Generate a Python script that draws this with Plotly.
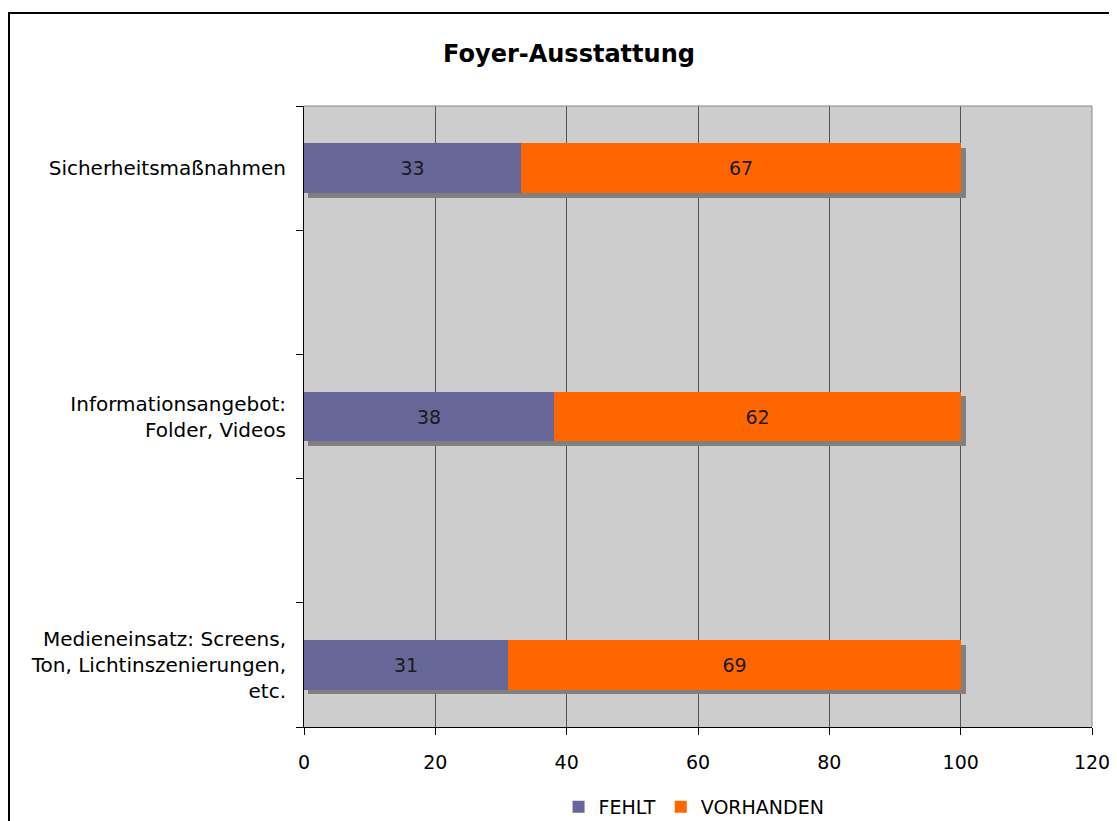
import plotly.graph_objects as go

categories = ["Sicherheitsmaßnahmen", "Informationsangebot:<br>Folder, Videos",
              "Medieneinsatz: Screens,<br>Ton, Lichtinszenierungen,<br>etc."]
cat_pos = [4, 2, 0]
fehlt = [33, 38, 31]
vorhanden = [67, 62, 69]
x_ticks = [0, 20, 40, 60, 80, 100, 120]

FONT = "Verdana, DejaVu Sans, sans-serif"
PURPLE = "#666699"
ORANGE = "#FF6600"
SHADOW = "#808080"
BAR_W = 0.4

W, H = 1109, 813  # page body has an 8px margin
L, T = 296, 98
PW, PH = 788, 621
B = H - T - PH

totals = [f + v for f, v in zip(fehlt, vorhanden)]

fig = go.Figure()
# 3D-style drop shadow behind each stacked bar
fig.add_trace(go.Bar(
    y=[p - 0.037 for p in cat_pos], x=[t + 0.2 for t in totals], base=[0.55] * len(totals),
    orientation="h", width=BAR_W, marker=dict(color=SHADOW, line=dict(width=0)),
    showlegend=False, hoverinfo="skip"))
fig.add_trace(go.Bar(
    name="FEHLT", y=cat_pos, x=fehlt, base=[0] * len(fehlt), orientation="h", width=BAR_W,
    marker=dict(color=PURPLE, line=dict(width=0)),
    text=[str(v) for v in fehlt], textposition="inside", insidetextanchor="middle",
    textfont=dict(family=FONT, size=19, color="#1a1a1a"), textangle=0))
fig.add_trace(go.Bar(
    name="VORHANDEN", y=cat_pos, x=vorhanden, base=fehlt, orientation="h", width=BAR_W,
    marker=dict(color=ORANGE, line=dict(width=0)),
    text=[str(v) for v in vorhanden], textposition="inside", insidetextanchor="middle",
    textfont=dict(family=FONT, size=19, color="#1a1a1a"), textangle=0))

fig.update_layout(
    width=W, height=H,
    margin=dict(l=L, r=W - L - PW, t=T, b=B, pad=0, autoexpand=False),
    paper_bgcolor="white", plot_bgcolor="#CDCDCD",
    barmode="overlay", bargap=0,
    font=dict(family=FONT, size=19, color="black"),
    title=dict(text="<b>Foyer-Ausstattung</b>", font=dict(family=FONT, size=24, color="black"),
               x=561 / W, xref="container", xanchor="center",
               y=1 - 46 / H, yref="container", yanchor="middle"),
    legend=dict(orientation="h", x=0.495, xanchor="center", y=-(B + 5) / PH, yanchor="bottom",
                font=dict(family=FONT, size=19, color="black"),
                itemwidth=30, traceorder="normal", bgcolor="rgba(0,0,0,0)"),
    xaxis=dict(range=[0, 120], tickvals=x_ticks, ticktext=[str(v) for v in x_ticks],
               showgrid=True, gridcolor="#555555", gridwidth=1,
               showline=True, linecolor="black", linewidth=1,
               ticks="outside", ticklen=7, tickcolor="black", automargin=False,
               ticklabelstandoff=11,
               tickfont=dict(family=FONT, size=19), zeroline=False, fixedrange=True),
    yaxis=dict(range=[-0.5, 4.5], tickvals=cat_pos, ticktext=categories,
               ticks="", showgrid=False, zeroline=False,
               showline=True, linecolor="black", linewidth=1,
               ticklabelstandoff=13, automargin=False,
               minor=dict(tickvals=[-0.5, 0.5, 1.5, 2.5, 3.5, 4.5], ticks="outside",
                          ticklen=7, tickcolor="black", showgrid=False),
               tickfont=dict(family=FONT, size=20), fixedrange=True),
    shapes=[
        # top and right plot-area border (gray)
        dict(type="line", xref="paper", yref="paper", x0=0, x1=1, y0=1, y1=1,
             line=dict(color="#888888", width=1)),
        dict(type="line", xref="paper", yref="paper", x0=1, x1=1, y0=0, y1=1,
             line=dict(color="#888888", width=1)),
        # outer chart border
        dict(type="rect", xref="paper", yref="paper",
             x0=-(L - 1) / PW, x1=1.2, y0=-0.3, y1=(PH + T - 5) / PH,
             line=dict(color="black", width=2), fillcolor="rgba(0,0,0,0)", layer="below"),
    ],
)

fig.write_html("out.html")
